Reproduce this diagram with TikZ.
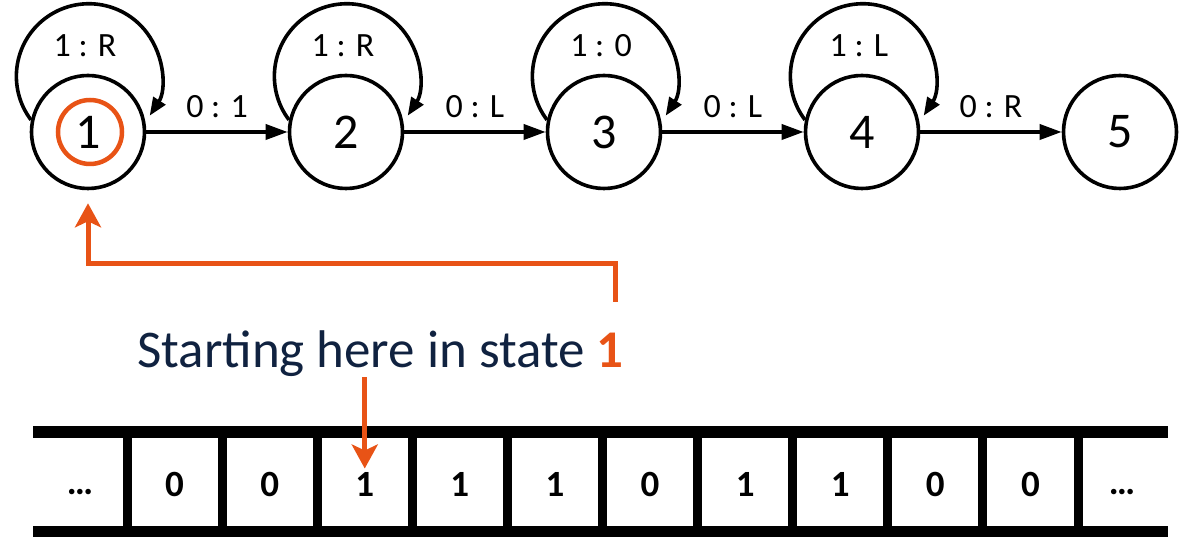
\documentclass[tikz,border=0pt]{standalone}
\usepackage{fontspec}
\setmainfont{Carlito}
\usetikzlibrary{arrows.meta,calc}
\definecolor{accent}{RGB}{232,83,22}
\definecolor{navy}{RGB}{16,34,64}
\begin{document}
\begin{tikzpicture}[x=1pt,y=1pt,
  state/.style={circle, draw, line width=3.6pt, minimum size=113pt, inner sep=0pt,
                font=\fontsize{50}{54}\selectfont},
  trans/.style={line width=3.6pt, -{Triangle[length=22pt,width=15pt]}},
  selfloop/.style={line width=3.6pt, -{Triangle[length=18pt,width=14pt]}},
  elabel/.style={font=\fontsize{34}{38}\selectfont, inner sep=0pt},
  pointer/.style={draw=accent, line width=5pt, -{Stealth[length=24pt,width=26pt,inset=6pt]}},
  cell/.style={font=\bfseries\fontsize{37}{40}\selectfont, inner sep=0pt}
]
\useasboundingbox (0,0) rectangle (1186,537);

% states of the machine
\foreach \i/\x in {1/88,2/346,3/604,4/862,5/1120}
  \node[state] (s\i) at (\x,405) {\i};

% self-loops with their labels
\foreach \i/\t in {1/{1 : R},2/{1 : R},3/{1 : 0},4/{1 : L}} {
  \draw[selfloop] (s\i.168) arc[start angle=217, end angle=-33, radius=72.5];
  \node[elabel] (l\i) at ($(s\i)+(-3,86)$) {\t};
}

% transitions between neighbouring states
\draw[trans] (s1) -- node[elabel, anchor=south, yshift=12pt] (t1) {0 : 1} (s2);
\draw[trans] (s2) -- node[elabel, anchor=south, yshift=12pt] (t2) {0 : L} (s3);
\draw[trans] (s3) -- node[elabel, anchor=south, yshift=12pt] (t3) {0 : L} (s4);
\draw[trans] (s4) -- node[elabel, anchor=south, yshift=12pt] (t4) {0 : R} (s5);

% highlight of the start state
\node[draw=accent, line width=4.5pt, circle, minimum size=64pt, inner sep=0pt] (mark) at ($(s1)+(2,0)$) {};

% caption
\node[anchor=base west, inner sep=0pt, text=navy, font=\fontsize{53}{58}\selectfont] (start)
  at (137,169) {Starting here in state \textcolor{accent}{\bfseries 1}};

% bracket pointing back to state 1
\coordinate (tail) at (615,235);
\draw[pointer] (tail) |- ([yshift=-73pt]s1.south) -- ([yshift=-13pt]s1.south);

% tape
\fill (33,99) rectangle (1168,111);
\fill (33,0) rectangle (1168,11);
\foreach \k in {0,...,10}
  \fill ({127+95.1*\k-4.5},11) rectangle ({127+95.1*\k+4.5},99);
\node[cell] (c0) at (80,45) {…};
\foreach \k/\d in {1/0,2/0,3/1,4/1,5/1,6/0,7/1,8/1,9/0,10/0}
  \node[cell] (c\k) at ({127+95.1*(\k-0.5)},52.5) {\d};
\node[cell] (c11) at (1122,45) {…};

% head position on the tape
\draw[pointer] (start.south -| c3) -- ([yshift=16pt]c3.center);
\end{tikzpicture}
\end{document}
